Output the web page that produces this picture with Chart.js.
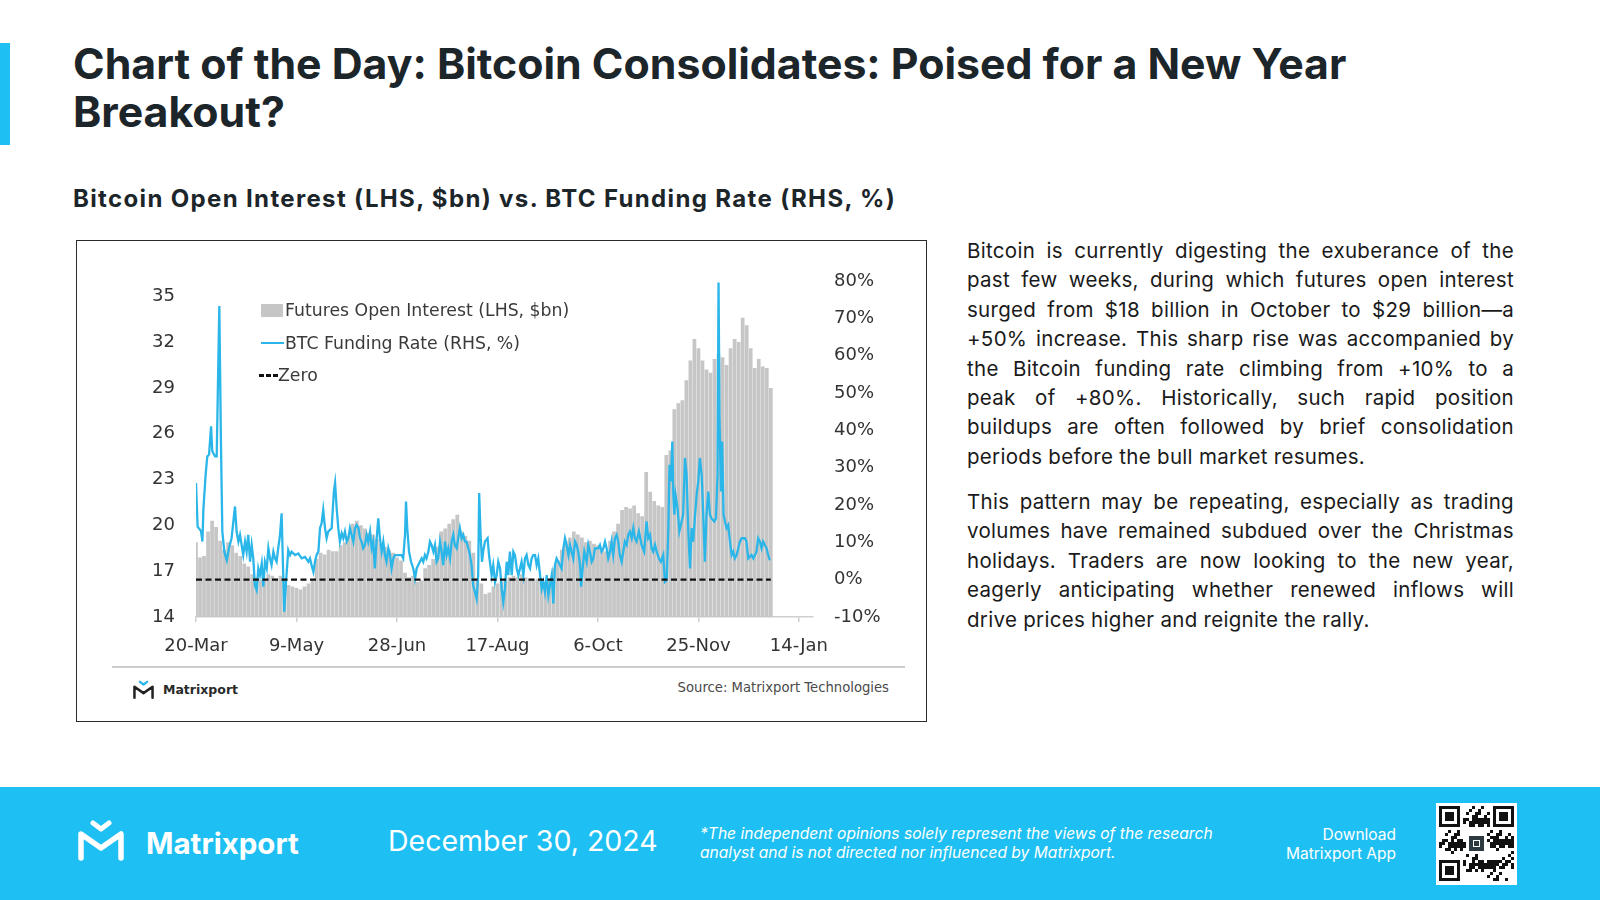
<!DOCTYPE html>
<html>
<head>
<meta charset="utf-8">
<title>Chart of the Day: Bitcoin Consolidates</title>
<script src="https://cdn.jsdelivr.net/npm/chart.js@4.4.1/dist/chart.umd.min.js"></script>
<style>
  html, body { margin: 0; padding: 0; }
  body { width: 1600px; height: 900px; position: relative; overflow: hidden; background: #fff; font-family: 'Inter', sans-serif; color: #1c2529; }
  .accent { position: absolute; left: 0; top: 43px; width: 10px; height: 102px; background: #1ebff2; }
  h1 { position: absolute; left: 73px; top: 40px; margin: 0; font-size: 42.8px; line-height: 48px; font-weight: 700; color: #1c2529; }
  h2 { position: absolute; left: 73px; top: 186px; margin: 0; font-size: 24px; line-height: 26px; font-weight: 700; letter-spacing: 1.35px; color: #1c2529; }
  .box { position: absolute; left: 76px; top: 240px; width: 851px; height: 482px; box-sizing: border-box; border: 1px solid #2b2b2b; }
  #chart { position: absolute; left: 77px; top: 242px; }
  .legend { position: absolute; left: 259px; top: 294px; font-family: 'DejaVu Sans'; font-size: 17.3px; color: #3a3a3a; }
  .legend .row { height: 32.5px; display: flex; align-items: center; white-space: nowrap; }
  .legend .slot { width: 26px; height: 14px; position: relative; }
  .sep { position: absolute; left: 112px; top: 666px; width: 793px; height: 2px; background: #cdcdcd; }
  .mlogo { position: absolute; left: 132px; top: 679px; height: 20px; display: flex; align-items: center; font-family: 'DejaVu Sans'; font-weight: 700; font-size: 12.5px; color: #2a2a2a; }
  .mlogo svg { margin-right: 8px; }
  .src { position: absolute; right: 711px; top: 678px; height: 20px; line-height: 20px; font-family: 'DejaVu Sans'; font-size: 13.2px; color: #4a4a4a; }
  .text { position: absolute; left: 967px; width: 547px; font-size: 20.5px; line-height: 29.4px; letter-spacing: 0.3px; color: #1a1a1a; }
  .text div { text-align: justify; text-align-last: justify; white-space: nowrap; }
  .text div.last { text-align-last: left; }
  .footer { position: absolute; left: 0; top: 787px; width: 1600px; height: 113px; background: #1ebff2; color: #fff; }
  .footer .logo { position: absolute; left: 76px; top: 32px; }
  .footer .brand { position: absolute; left: 146px; top: 36px; height: 40px; line-height: 40px; font-size: 29.5px; font-weight: 700; }
  .footer .date { position: absolute; left: 388px; top: 34px; height: 40px; line-height: 40px; font-size: 28.5px; }
  .footer .disc { position: absolute; left: 700px; top: 36.5px; font-size: 15.6px; line-height: 19.3px; font-style: italic; }
  .footer .dl { position: absolute; right: 204px; top: 37.5px; font-size: 15.5px; line-height: 19.3px; text-align: right; }
  #qr { position: absolute; left: 1436px; top: 803px; }
</style>
</head>
<body>
<div class="accent"></div>
<h1>Chart of the Day: Bitcoin Consolidates: Poised for a New Year<br>Breakout?</h1>
<h2>Bitcoin Open Interest (LHS, $bn) vs. BTC Funding Rate (RHS, %)</h2>

<div class="box"></div>
<canvas id="chart" width="848" height="420"></canvas>
<div class="legend" id="legend"></div>
<div class="sep"></div>
<div class="mlogo">
  <svg width="23" height="19" viewBox="0 0 50 42">
    <path d="M17 4 L25 10 L33 4" stroke="#29b6e9" stroke-width="5" fill="none" stroke-linecap="round" stroke-linejoin="round"/>
    <path d="M5 39 V15 L25 29 L45 15 V39" stroke="#222" stroke-width="5.5" fill="none" stroke-linecap="round" stroke-linejoin="round"/>
  </svg>Matrixport
</div>
<div class="src">Source: Matrixport Technologies</div>

<div class="text" style="top:236px">
  <div>Bitcoin is currently digesting the exuberance of the</div>
  <div>past few weeks, during which futures open interest</div>
  <div>surged from $18 billion in October to $29 billion—a</div>
  <div>+50% increase. This sharp rise was accompanied by</div>
  <div>the Bitcoin funding rate climbing from +10% to a</div>
  <div>peak of +80%. Historically, such rapid position</div>
  <div>buildups are often followed by brief consolidation</div>
  <div class="last">periods before the bull market resumes.</div>
</div>
<div class="text" style="top:487px">
  <div>This pattern may be repeating, especially as trading</div>
  <div>volumes have remained subdued over the Christmas</div>
  <div>holidays. Traders are now looking to the new year,</div>
  <div>eagerly anticipating whether renewed inflows will</div>
  <div class="last">drive prices higher and reignite the rally.</div>
</div>

<div class="footer">
  <svg class="logo" width="50" height="42" viewBox="0 0 50 42">
    <path d="M17 4 L25 10 L33 4" stroke="#fff" stroke-width="5" fill="none" stroke-linecap="round" stroke-linejoin="round"/>
    <path d="M5 39 V15 L25 29 L45 15 V39" stroke="#fff" stroke-width="5.5" fill="none" stroke-linecap="round" stroke-linejoin="round"/>
  </svg>
  <div class="brand">Matrixport</div>
  <div class="date">December 30, 2024</div>
  <div class="disc">*The independent opinions solely represent the views of the research<br>analyst and is not directed nor influenced by Matrixport.</div>
  <div class="dl">Download<br>Matrixport App</div>
</div>
<canvas id="qr" width="81" height="82"></canvas>

<script>
// --- Axis labels (days counted from 20-Mar-2024, one label every 50 days) ---
const tickLabels = ['20-Mar', '9-May', '28-Jun', '17-Aug', '6-Oct', '25-Nov', '14-Jan'];
const tickDays = [0, 50, 100, 150, 200, 250, 300];

// --- Futures open interest, $bn, one bar every 2 days starting 20-Mar ---
const oiStepDays = 2;
const oiValues = [
  18.9, 17.9, 18.0, 19.6, 20.3, 19.9, 19.0, 18.4, 18.9, 18.7,
  18.2, 18.0, 17.5, 17.3, 16.8, 16.6, 16.4, 16.5, 16.8, 16.7,
  16.5, 16.7, 16.5, 16.1, 16.0, 15.9, 15.8, 16.0, 16.2, 16.4,
  17.8, 18.2, 18.1, 18.4, 18.3, 18.3, 18.7, 18.9, 19.3, 20.1,
  20.3, 20.0, 19.8, 19.5, 19.4, 19.1, 18.8, 18.6, 18.4, 18.2,
  17.9, 17.7, 16.9, 16.6, 16.7, 16.3, 16.4, 17.2, 17.4, 17.8,
  18.6, 19.6, 19.8, 20.1, 20.4, 20.7, 19.6, 19.3, 19.0, 18.2,
  16.5, 16.2, 15.5, 15.6, 16.0, 16.2, 16.3, 16.5, 16.6, 16.7,
  16.6, 16.8, 16.6, 16.5, 16.4, 16.5, 16.3, 16.2, 16.5, 17.2,
  17.7, 18.4, 19.0, 19.2, 19.6, 19.4, 19.2, 18.9, 19.0, 18.8,
  18.7, 18.5, 18.3, 19.0, 19.6, 20.1, 21.0, 21.2, 21.1, 21.3,
  20.8, 20.6, 23.5, 22.2, 21.6, 21.3, 21.2, 24.6, 24.9, 27.6,
  28.0, 28.2, 29.5, 30.8, 32.2, 31.6, 30.8, 30.2, 30.0, 30.9,
  31.2, 31.0, 30.5, 31.6, 32.2, 32.0, 33.6, 33.1, 31.6, 30.3,
  30.9, 30.4, 30.3, 29.0
];

// --- BTC funding rate, %, read where the line turns (day, value) ---
const fundingDays = [
  0, 0.8, 2.5, 3.2, 3.7, 4.8, 5.6, 6.5, 7.5, 8.1,
  9.5, 10.3, 11.6, 12.4, 13.1, 14.1, 15.3, 16.4, 17.7, 19.4,
  20.2, 21.1, 21.9, 22.7, 23.5, 24.4, 25.2, 26.0, 26.9, 27.7,
  28.5, 29.3, 30.2, 31.0, 31.8, 32.7, 33.5, 34.3, 35.2, 36.0,
  36.8, 37.6, 38.5, 39.3, 40.1, 40.9, 41.8, 42.6, 43.4, 43.9,
  44.8, 45.9, 46.8, 47.6, 49.3, 50.9, 52.6, 54.2, 55.9, 56.7,
  57.5, 58.4, 59.2, 60.0, 60.9, 61.7, 62.5, 63.3, 64.2, 65.0,
  65.8, 67.5, 68.6,
  69.2, 70.0, 70.8, 71.6, 72.5, 73.3, 74.1, 75.0, 75.8, 76.6,
  77.4, 78.3, 79.1, 79.9, 80.8, 81.6, 82.4, 83.2, 84.1, 84.9,
  85.7, 86.6, 87.4, 88.2, 89.0, 89.9, 90.7, 91.5, 92.4, 93.2,
  94.0, 94.8, 95.7, 96.5, 97.3, 98.2, 99.0, 100.7, 102.3, 103.1,
  104.0, 104.5, 105.1, 106.0, 107.0, 108.1, 109.0, 109.8, 110.6, 111.4,
  112.3, 113.1, 113.9, 114.7, 115.6, 116.4, 117.2, 118.1, 118.9, 119.7,
  120.5, 121.4, 122.2, 123.0, 123.9, 124.7, 125.5, 126.4, 127.2, 128.0,
  128.8, 129.7, 130.5, 131.3, 132.2, 133.0, 133.8, 134.6, 135.5, 136.3,
  137.1, 137.9, 138.8, 139.6, 140.4, 140.9, 141.6, 142.3, 143.0,
  143.8, 145.1, 145.8, 147.1, 147.9, 148.8, 149.6, 150.4, 151.3, 152.1,
  152.9, 153.7, 154.6, 155.4, 156.2, 157.1, 157.9, 158.7, 159.6, 160.4,
  161.2, 162.0, 162.9, 163.7, 164.5, 165.4, 166.2, 167.0, 167.8, 168.7,
  169.5, 170.3, 171.2, 172.0, 172.8, 173.6, 174.5, 175.3, 176.1, 177.0,
  177.8, 178.6, 179.4, 180.3, 181.9, 182.8, 183.6, 184.4, 185.3, 186.1,
  186.9, 187.7, 188.6, 189.4, 190.2, 191.1, 191.6, 192.4, 193.2, 194.4,
  195.2, 196.0, 196.9, 197.7, 198.5, 200.2, 201.0, 201.8, 202.7, 203.5,
  204.3, 205.1, 206.0, 206.8, 207.6, 208.5, 209.3, 210.1, 210.9, 211.8,
  212.6, 213.4, 214.3, 215.1, 215.9, 216.8, 217.6,
  218.4, 219.2, 220.4, 221.7, 223.0, 224.2, 225.0, 225.9, 226.7, 227.5,
  228.4, 229.2, 230.3, 231.3, 232.5, 233.3, 234.2, 235.0, 235.6, 236.3,
  237.0, 237.5, 238.0, 238.6, 239.6, 240.5, 241.6, 242.4, 243.3, 244.1,
  244.9, 245.8, 246.6, 247.4, 248.2, 249.1, 249.9, 250.7, 251.6, 252.4,
  253.2, 254.0, 254.9, 255.7, 256.5, 257.9, 258.7, 259.5, 260.0, 260.5,
  261.2, 261.8, 262.5, 263.2, 264.0, 264.8, 265.7, 266.5, 267.3, 268.1,
  269.0, 269.8, 270.6, 271.5, 273.1, 273.9, 274.8, 276.4, 277.3, 278.1,
  278.9, 279.7, 280.6, 281.4, 282.2, 283.9, 284.7, 285.5
];
const fundingRate = [
  25.9, 14.2, 13.0, 10.2, 19.1, 28.1, 33.0, 33.5, 41.1, 34.4,
  33.0, 33.0, 73.3, 37.0, 12.9, 7.5, 5.2, 8.4, 11.1, 19.6,
  12.9, 10.2, 12.0, 9.3, 6.6, 10.2, 7.5, 12.0, 4.8, 9.3,
  5.7, -1.5, -2.8, 3.0, 1.2, 4.3, -1.9, 4.8, 3.0, 8.4,
  5.7, 3.9, 7.5, 5.7, 4.8, 8.4, 12.0, 17.8, 1.2, -8.6,
  -0.6, 7.9, 6.6, 7.5, 6.6, 7.0, 5.7, 6.1, 4.8, 5.7,
  3.9, 2.1, 4.8, 6.6, 7.5, 13.8, 15.1, 18.7, 13.8, 11.1,
  12.9, 13.8, 23.6,
  25.9, 19.1, 13.8, 10.2, 12.4, 11.1, 12.9, 10.2, 11.1, 13.8,
  12.0, 10.2, 13.8, 14.6, 13.8, 11.1, 10.2, 8.4, 9.3, 12.0,
  10.2, 12.9, 8.4, 10.2, 3.0, 11.1, 16.4, 11.1, 7.5, 10.2,
  6.6, 4.8, 8.4, 6.6, 3.0, 5.7, 6.6, 6.6, 6.6, 5.7,
  12.0, 20.9, 13.8, 7.5, 4.8, 3.0, 0.3, 3.0, 3.9, 4.8,
  5.7, 4.8, 6.6, 5.7, 7.5, 10.2, 9.3, 7.5, 9.3, 4.8,
  5.7, 10.2, 7.5, 3.9, 10.2, 6.6, 8.4, 5.7, 10.2, 12.0,
  9.3, 8.4, 11.1, 13.8, 11.1, 12.0, 10.2, 10.2, 8.4, 6.6,
  3.9, -1.5, -3.3, -5.1, 1.2, 23.2, 12.0, 4.8, 8.0,
  10.2, 11.1, 6.6, 1.2, 3.9, -0.6, 1.2, 4.8, 3.0, -2.4,
  -6.0, -2.4, 4.8, 1.2, 7.5, 1.2, 7.5, 6.6, 3.0, 1.2,
  3.0, 4.8, 1.2, 5.7, 6.6, 3.9, 3.0, 5.7, 6.6, 6.6,
  3.9, 5.7, 1.2, -2.4, -0.6, -3.3, 1.2, -4.2, -1.5, 1.2,
  -6.4, 3.9, 5.7, 4.8, 3.0, 8.4, 11.1, 9.3, 6.6, 9.3,
  7.5, 5.7, 10.2, 9.3, 7.5, 3.9, -1.9, 3.0, 7.5, 4.8,
  9.3, 7.5, 4.8, 5.7, 8.4, 8.4, 9.3, 7.5, 8.4, 10.2,
  8.4, 5.7, 7.5, 10.2, 6.6, 11.1, 12.0, 10.2, 6.6, 4.8,
  7.5, 10.2, 9.3, 12.0, 12.9, 11.1, 13.8,
  11.1, 10.2, 12.9, 9.3, 7.5, 15.6, 11.1, 12.0, 8.4, 7.5,
  9.3, 7.5, 5.7, 4.8, 6.6, -0.6, -0.1, 12.9, 30.8, 26.3,
  37.0, 22.7, 17.4, 22.7, 19.1, 12.9, 15.6, 17.4, 32.6, 28.1,
  13.8, 3.0, 13.8, 10.2, 16.4, 22.7, 26.3, 32.6, 28.1, 17.4,
  4.8, 17.4, 23.6, 17.4, 16.4, 15.6, 16.4, 28.1, 79.6, 43.3,
  23.6, 37.0, 17.4, 15.6, 13.8, 14.6, 10.2, 6.6, 7.5, 5.7,
  6.6, 8.4, 10.2, 11.1, 11.1, 10.2, 5.7, 6.6, 5.7, 6.6,
  7.5, 11.1, 10.2, 8.4, 10.2, 8.4, 6.6, 5.2
];

// --- Zero reference line ---
const zeroDays = [0, 286];
const zeroValues = [0, 0];

const leftTicks = [14, 17, 20, 23, 26, 29, 32, 35];

// --- Build datasets ---
const oiPoints = oiValues.map((v, i) => ({ x: i * oiStepDays, y: v }));
const frPoints = fundingDays.map((d, i) => ({ x: d, y: fundingRate[i] }));
const zeroPoints = zeroDays.map((d, i) => ({ x: d, y: zeroValues[i] }));

const tickFont = { family: 'DejaVu Sans', size: 18 };

const ctx = document.getElementById('chart').getContext('2d');
const chart = new Chart(ctx, {
    type: 'bar',
    data: {
        datasets: [
            { type: 'line', label: 'Zero', data: zeroPoints, yAxisID: 'yR',
              borderColor: '#111', borderWidth: 2.2, borderDash: [6, 3.5], pointRadius: 0, order: 1 },
            { type: 'line', label: 'BTC Funding Rate (RHS, %)', data: frPoints, yAxisID: 'yR',
              borderColor: '#2ab6e9', borderWidth: 2.3, pointRadius: 0, tension: 0, order: 2 },
            { type: 'bar', label: 'Futures Open Interest (LHS, $bn)', data: oiPoints, yAxisID: 'yL',
              backgroundColor: '#c6c6c6', barPercentage: 1, categoryPercentage: 0.93, order: 3 }
        ]
    },
    options: {
        responsive: false,
        animation: false,
        layout: { padding: { top: 39, left: 0, right: 0, bottom: 0 } },
        plugins: { legend: { display: false }, tooltip: { enabled: false } },
        scales: {
            x: {
                type: 'linear', min: 0, max: 307, offset: false,
                grid: { display: true, offset: false, drawOnChartArea: false, drawTicks: true, tickLength: 5, color: '#cfcfcf', lineWidth: 1.5 },
                border: { display: true, color: '#cfcfcf', width: 1.5 },
                ticks: { padding: 14, autoSkip: false, maxRotation: 0, font: tickFont, color: '#333',
                         callback: v => tickLabels[tickDays.indexOf(v)] },
                afterBuildTicks: s => { s.ticks = tickDays.map(v => ({ value: v })); },
                afterFit: s => { s.height = 45; }
            },
            yL: {
                position: 'left', min: 14, max: 36,
                grid: { display: false }, border: { display: false },
                ticks: { padding: 13, font: tickFont, color: '#333' },
                afterBuildTicks: s => { s.ticks = leftTicks.map(v => ({ value: v })); },
                afterFit: s => { s.width = 119; }
            },
            yR: {
                position: 'right', min: -10, max: 80,
                grid: { display: false }, border: { display: false },
                ticks: { stepSize: 10, padding: 13, font: tickFont, color: '#333', callback: v => v + '%' },
                afterFit: s => { s.width = 112; }
            }
        }
    }
});

// --- Legend (inside the plot, stacked) ---
const legendEl = document.getElementById('legend');
[2, 1, 0].forEach(idx => {
    const ds = chart.data.datasets[idx];
    const row = document.createElement('div');
    row.className = 'row';
    const slot = document.createElement('span');
    slot.className = 'slot';
    const mark = document.createElement('span');
    mark.style.position = 'absolute';
    if (ds.type === 'bar') {
        Object.assign(mark.style, { left: '2px', top: '1px', width: '22px', height: '13px', background: ds.backgroundColor });
    } else if (ds.borderDash) {
        Object.assign(mark.style, { left: '0px', top: '6px', width: '19px', height: '2.5px',
            background: 'repeating-linear-gradient(90deg, #111 0 5px, transparent 5px 7px)' });
    } else {
        Object.assign(mark.style, { left: '2px', top: '6px', width: '23px', height: '2.5px', background: ds.borderColor });
    }
    slot.appendChild(mark);
    row.appendChild(slot);
    const label = document.createElement('span');
    label.textContent = ds.label;
    if (ds.borderDash) label.style.marginLeft = '-7px';
    row.appendChild(label);
    legendEl.appendChild(row);
});

// --- QR code look-alike for the footer ---
(function drawQr() {
    const c = document.getElementById('qr').getContext('2d');
    const n = 25, m = 3, off = 3;
    c.fillStyle = '#fff';
    c.fillRect(0, 0, 81, 82);
    c.fillStyle = '#111';
    const finder = (r0, c0) => {
        for (let r = 0; r < 7; r++) for (let k = 0; k < 7; k++) {
            const edge = r === 0 || r === 6 || k === 0 || k === 6;
            const core = r >= 2 && r <= 4 && k >= 2 && k <= 4;
            if (edge || core) c.fillRect(off + (c0 + k) * m, off + (r0 + r) * m, m, m);
        }
    };
    const inFinder = (r, k) => (r < 8 && k < 8) || (r < 8 && k > 16) || (r > 16 && k < 8);
    const seed = 'Matrixport App';
    for (let r = 0; r < n; r++) for (let k = 0; k < n; k++) {
        if (inFinder(r, k)) continue;
        if (r >= 9 && r <= 15 && k >= 9 && k <= 15) continue;
        const h = ((r * 131 + k * 71 + seed.charCodeAt((r + k) % seed.length) * 17) * 2654435761) >>> 0;
        if ((h >>> 13) % 100 < 47) c.fillRect(off + k * m, off + r * m, m, m);
    }
    finder(0, 0); finder(0, 18); finder(18, 0);
    c.fillStyle = '#2d3a40';
    c.fillRect(off + 10 * m, off + 10 * m, 5 * m, 5 * m);
    c.strokeStyle = '#fff';
    c.lineWidth = 1;
    c.strokeRect(off + 11.5 * m, off + 11.5 * m, 2 * m, 2 * m);
})();
</script>
</body>
</html>
